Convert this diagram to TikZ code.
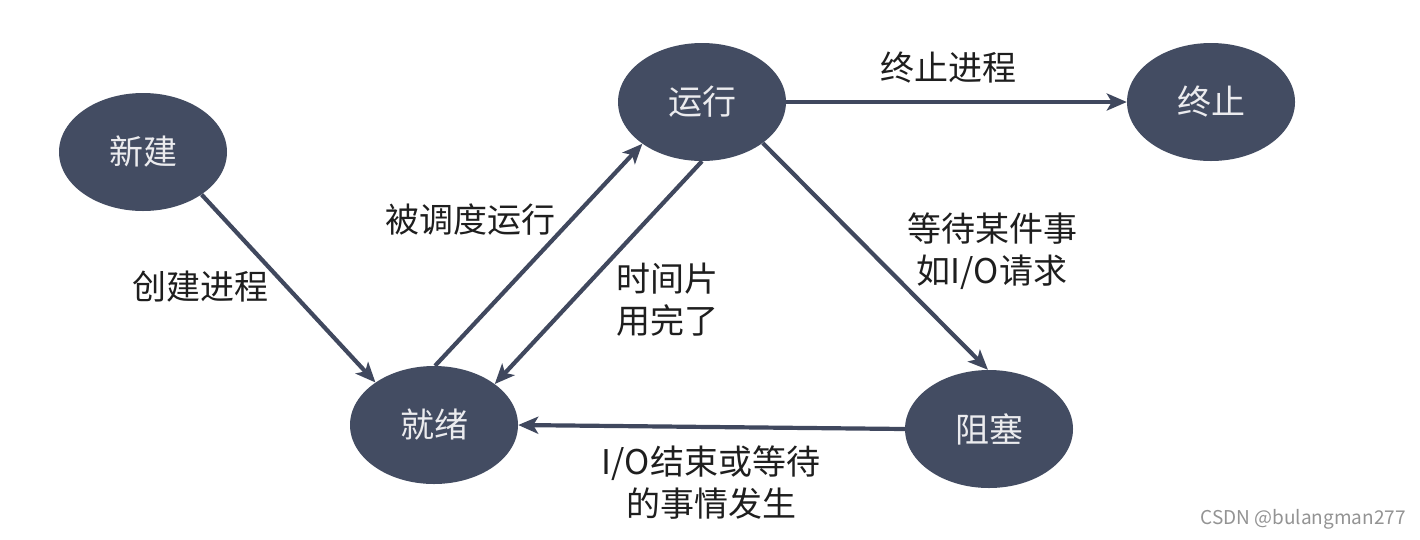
\documentclass[tikz,border=0pt]{standalone}
\usepackage{fontspec}
\setmainfont{Noto Sans CJK SC}
\usetikzlibrary{arrows.meta,shapes.geometric}
\definecolor{stfill}{RGB}{67,76,98}
\definecolor{arrowc}{RGB}{64,72,94}
\definecolor{txtc}{RGB}{30,30,30}
\definecolor{intxt}{RGB}{235,235,238}
\begin{document}
\begin{tikzpicture}[x=1pt,y=-1pt,
  state/.style={ellipse,fill=stfill,minimum width=168pt,minimum height=118pt,inner sep=0pt,text=intxt,font=\fontsize{34}{40}\selectfont},
  lbl/.style={text=txtc,font=\fontsize{34}{42}\selectfont,align=center,inner sep=0pt},
  conn/.style={draw=arrowc,line width=4.2pt,-{Stealth[length=20pt,width=17pt,inset=5pt]}}]
\useasboundingbox[fill=white] (0,0) rectangle (1420,539);
\node[state] (new) at (143,152) {新建};
\node[state] (ready) at (434,425) {就绪};
\node[state] (run) at (702,102) {运行};
\node[state] (end) at (1211,102) {终止};
\node[state] (block) at (989,429) {阻塞};
\draw[conn] (new.-36) -- (ready.144);
\draw[conn] (ready.89) -- (run.215);
\draw[conn] (run.270) -- (ready.34);
\draw[conn] (run.-34) -- (block.91);
\draw[conn] (run.0) -- (end.180);
\draw[conn] (block.180) -- (ready.0);
\node[lbl] (l1) at (200,287) {创建进程};
\node[lbl] (l2) at (470,220) {被调度运行};
\node[lbl,align=left,anchor=west] (l3) at (616,300) {时间片\\用完了};
\node[lbl] (l4) at (948,68) {终止进程};
\node[lbl] (l5) at (992,251) {等待某件事\\如I/O请求};
\node[lbl] (l6) at (711,483) {I/O结束或等待\\的事情发生};
\node[text=gray!85,font=\fontsize{19}{22}\selectfont,anchor=east,inner sep=0pt] (wm) at (1406,519) {CSDN @bulangman277};
\end{tikzpicture}
\end{document}
